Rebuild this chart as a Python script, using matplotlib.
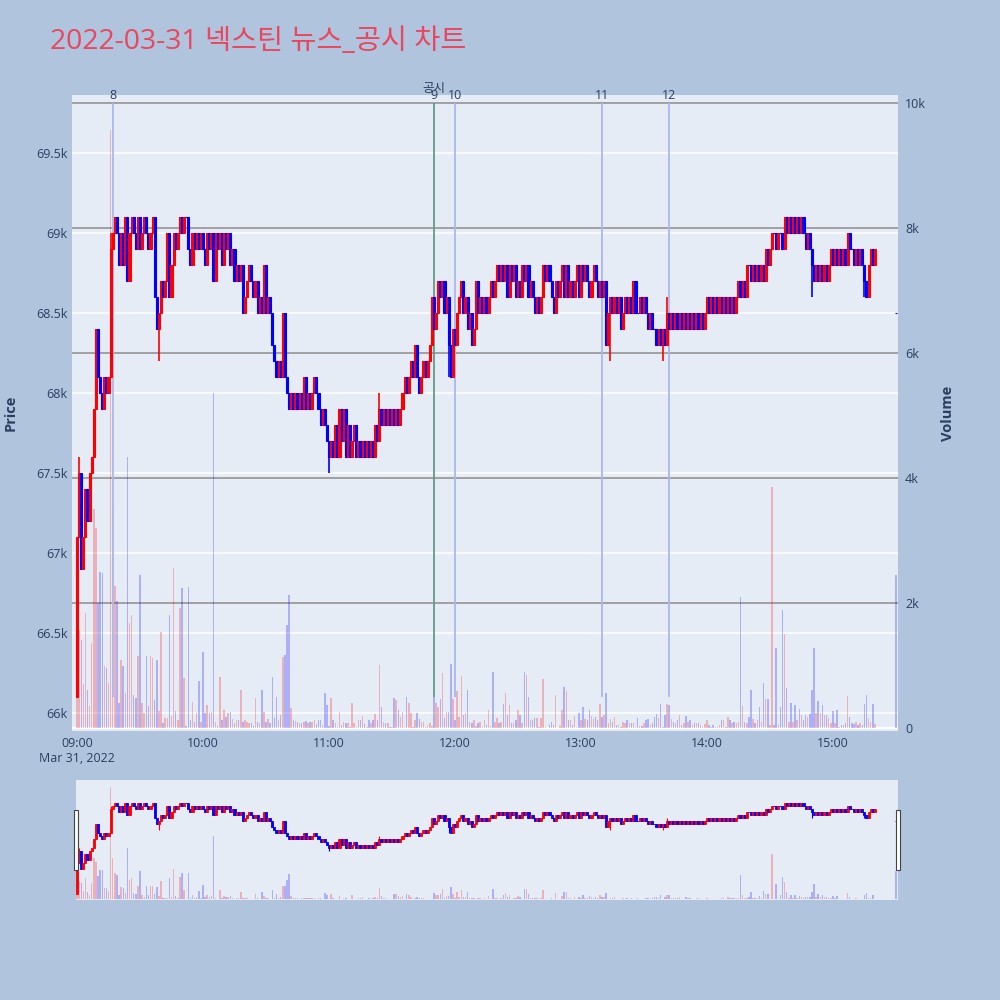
import numpy as np
import pandas as pd
import matplotlib
matplotlib.use('Agg')
import matplotlib.pyplot as plt
import matplotlib.dates as mdates
from matplotlib.patches import Rectangle

plt.rcParams['font.family'] = ['Open Sans', 'Noto Sans CJK KR', 'DejaVu Sans']

title = '2022-03-31 넥스틴 뉴스_공시 차트'

# 1-minute closes from 09:00 to 15:20, in units of 100 won
first_open = 661
closes = [
    671, 675, 669, 671, 674, 672, 675, 676, 679, 684,
    681, 680, 679, 681, 680, 681, 689, 690, 691, 690,
    688, 690, 688, 691, 687, 690, 691, 690, 689, 691,
    689, 690, 691, 690, 689, 690, 691, 686, 684, 685,
    687, 686, 687, 690, 686, 688, 690, 689, 690, 691,
    690, 691, 691, 689, 688, 690, 689, 690, 689, 690,
    689, 688, 690, 689, 690, 687, 690, 689, 690, 688,
    690, 689, 690, 688, 689, 687, 688, 687, 688, 685,
    686, 687, 688, 687, 686, 687, 685, 686, 685, 688,
    685, 686, 685, 683, 682, 681, 682, 681, 685, 681,
    680, 679, 680, 679, 680, 679, 680, 679, 681, 679,
    680, 679, 680, 681, 680, 679, 678, 679, 678, 677,
    676, 677, 676, 678, 676, 679, 677, 679, 676, 678,
    676, 677, 678, 676, 677, 676, 677, 676, 677, 676,
    677, 676, 678, 677, 679, 678, 679, 678, 679, 678,
    679, 678, 679, 678, 679, 680, 681, 680, 681, 682,
    681, 683, 681, 680, 681, 682, 681, 682, 683, 686,
    684, 685, 687, 686, 687, 685, 686, 683, 681, 684,
    683, 685, 686, 687, 685, 686, 684, 685, 683, 684,
    687, 685, 686, 685, 686, 685, 686, 687, 686, 687,
    688, 687, 688, 687, 688, 686, 688, 687, 688, 686,
    687, 686, 688, 687, 688, 686, 687, 686, 685, 686,
    685, 686, 688, 687, 688, 687, 686, 685, 687, 686,
    687, 688, 686, 688, 686, 687, 686, 687, 688, 686,
    688, 687, 688, 687, 686, 687, 688, 687, 686, 687,
    686, 687, 683, 685, 686, 685, 686, 685, 686, 684,
    685, 686, 685, 686, 685, 687, 685, 685, 686, 685,
    686, 685, 684, 685, 684, 684, 683, 684, 683, 684,
    683, 685, 684, 685, 684, 685, 684, 685, 684, 685,
    684, 685, 684, 685, 684, 685, 684, 685, 684, 685,
    686, 685, 686, 685, 686, 685, 686, 685, 686, 685,
    686, 685, 686, 685, 686, 687, 686, 687, 686, 688,
    688, 687, 688, 687, 688, 687, 688, 687, 689, 688,
    689, 690, 690, 689, 690, 690, 689, 691, 690, 691,
    690, 691, 690, 691, 690, 691, 690, 689, 690, 689,
    688, 687, 688, 687, 688, 687, 688, 687, 688, 689,
    688, 689, 688, 689, 688, 689, 688, 690, 689, 689,
    688, 689, 688, 689, 688, 687, 686, 688, 689, 688, 689,
]
close_auction = 685  # 15:30

# wicks that go past the body (minute index -> price/100)
extra_high = {1: 676, 16: 690, 113: 681, 144: 680, 281: 686, 367: 690}
extra_low = {39: 682, 120: 675, 177: 681, 254: 682, 279: 682, 350: 686, 375: 686}

volumes = [
    1300, 1570, 1410, 700, 1840, 600, 350, 1360, 3500, 3200,
    2000, 2500, 2480, 990, 960, 720, 9570, 3540, 2270, 2030,
    400, 1090, 990, 560, 4340, 1680, 1810, 530, 480, 1150,
    2450, 400, 240, 1150, 350, 1150, 1120, 450, 1090, 270,
    1540, 80, 160, 160, 1800, 190, 2560, 270, 130, 1920,
    2240, 800, 30, 2250, 130, 410, 100, 240, 750, 100,
    1220, 240, 370, 240, 260, 5360, 100, 30, 810, 130,
    290, 180, 240, 250, 140, 75, 130, 130, 600, 100,
    130, 100, 75, 75, 30, 480, 100, 75, 600, 250,
    100, 140, 75, 810, 160, 490, 130, 210, 1130, 1160,
    1640, 2130, 320, 130, 110, 100, 75, 85, 95, 110,
    85, 100, 100, 120, 65, 130, 130, 40, 560, 370,
    30, 480, 130, 75, 20, 250, 50, 100, 85, 75,
    20, 400, 75, 20, 130, 130, 190, 65, 20, 130,
    75, 120, 225, 130, 1000, 330, 100, 85, 75, 20,
    20, 480, 450, 290, 180, 250, 20, 490, 400, 235,
    20, 130, 235, 150, 100, 100, 20, 50, 75, 30,
    510, 400, 340, 460, 880, 155, 260, 250, 1020, 460,
    130, 590, 180, 830, 210, 235, 610, 100, 85, 130,
    30, 85, 100, 20, 130, 50, 290, 30, 900, 100,
    155, 75, 100, 380, 560, 210, 370, 75, 85, 130,
    290, 210, 75, 900, 850, 490, 130, 130, 155, 155,
    20, 155, 790, 20, 5, 48, 100, 48, 520, 5,
    30, 290, 650, 590, 120, 120, 48, 190, 20, 240,
    120, 340, 140, 120, 280, 190, 140, 170, 120, 380,
    170, 210, 560, 75, 140, 100, 180, 48, 48, 20,
    100, 75, 130, 75, 85, 75, 20, 155, 30, 30,
    75, 130, 140, 48, 85, 180, 225, 155, 380, 20,
    210, 380, 370, 140, 90, 85, 120, 210, 48, 75,
    190, 100, 120, 48, 75, 85, 85, 48, 20, 65,
    120, 48, 20, 48, 20, 20, 48, 120, 120, 20,
    170, 120, 85, 100, 85, 100, 2100, 350, 100, 85,
    180, 610, 140, 85, 120, 330, 100, 720, 470, 460,
    48, 3860, 48, 1280, 48, 340, 1890, 1500, 640, 100,
    400, 100, 360, 130, 300, 210, 130, 210, 180, 220,
    600, 1280, 235, 430, 235, 360, 210, 210, 155, 85,
    270, 85, 290, 10, 48, 48, 75, 510, 180, 75,
    65, 100, 48, 75, 48, 390, 530, 155, 100, 380, 60,
]
volume_auction = 2440

news_times = ['09:17', '11:50', '12:00', '13:10', '13:42']
news_labels = ['8', '9', '10', '11', '12']
news_kind = ['뉴스', '공시', '뉴스', '뉴스', '뉴스']

price_ticks = [66000, 66500, 67000, 67500, 68000, 68500, 69000, 69500]
volume_ticks = [0, 2000, 4000, 6000, 8000, 10000]

# ---- build OHLC ----
times = list(pd.date_range('2022-03-31 09:00', periods=len(closes), freq='min'))
times.append(pd.Timestamp('2022-03-31 15:30'))
x = mdates.date2num(times)
c = np.array(closes + [close_auction], dtype=float) * 100
o = np.concatenate([[first_open * 100], c[:-1]])
o[-1] = c[-1]
hi = np.maximum(o, c)
lo = np.minimum(o, c)
for k, v in extra_high.items():
    hi[k] = max(hi[k], v * 100)
for k, v in extra_low.items():
    lo[k] = min(lo[k], v * 100)
vol = np.array(volumes + [volume_auction], dtype=float)
up = c > o
cols = np.where(up, '#FF0000', '#0000FF')
vcols = [(1, 0, 0, 0.25) if u else (0, 0, 1, 0.25) for u in up]

minute = 1 / 1440
x0 = x[0]
txt = '#2A3F5F'
bg = '#E5ECF6'

fig = plt.figure(figsize=(10, 10), dpi=100, facecolor='#B0C4DE')
fig.text(0.05, 0.958, title, fontsize=20.4, color='#E8475F', va='center')

ax_p = fig.add_axes([0.072, 0.269, 0.826, 0.636])
ax_p.set_facecolor(bg)
ax_v = ax_p.twinx()
ax_c = fig.add_axes([0.072, 0.269, 0.826, 0.636], sharex=ax_p, label='candles')
ax_p.set_zorder(0)
ax_v.set_zorder(1)
ax_c.set_zorder(2)
ax_v.patch.set_visible(False)
ax_c.patch.set_visible(False)

for a in (ax_p, ax_v, ax_c):
    for s in a.spines.values():
        s.set_visible(False)

xmin, xmax = x0 - 2.4 * minute, x0 + 391 * minute
ax_p.set_xlim(xmin, xmax)
ax_p.set_ylim(65890, 69860)
ax_c.set_ylim(65890, 69860)
ax_v.set_ylim(-50, 10130)

# price grid (white)
ax_p.set_yticks(price_ticks)
ax_p.set_yticklabels([f'{t/1000:g}k' for t in price_ticks])
ax_p.grid(axis='y', color='white', lw=1.1)
ax_p.grid(axis='x', visible=False)
ax_p.tick_params(axis='y', length=0, pad=3, labelsize=9, labelcolor=txt)
ax_p.xaxis.set_major_locator(mdates.HourLocator())
ax_p.xaxis.set_major_formatter(mdates.DateFormatter('%H:%M'))
ax_p.tick_params(axis='x', length=0, pad=4, labelsize=9, labelcolor=txt)
ax_p.annotate('Mar 31, 2022', xy=(x0, 0), xycoords=('data', 'axes fraction'),
              xytext=(0, -20), textcoords='offset points', ha='center',
              va='center', fontsize=9, color=txt, annotation_clip=False)
ax_p.set_ylabel('Price', fontsize=10.5, fontweight='bold', color=txt)
ax_p.yaxis.set_label_coords(-0.066, 0.5)

# volume axis
ax_v.set_yticks(volume_ticks)
ax_v.set_yticklabels(['0'] + [f'{t//1000}k' for t in volume_ticks[1:]])
ax_v.tick_params(axis='y', length=0, pad=5, labelsize=9, labelcolor=txt)
ax_v.set_ylabel('Volume', fontsize=10.5, fontweight='bold', color=txt)
ax_v.yaxis.set_label_coords(1.052, 0.5)
ax_v.axhline(0, color='white', lw=1.6, zorder=0)
for t in volume_ticks[1:]:
    ax_v.axhline(t, color='#9B9B9B', lw=1.3, zorder=0)
ax_v.bar(x, vol, width=0.7 * minute, color=vcols, lw=0, zorder=1)

# news / disclosure markers
for t, lab, kind in zip(news_times, news_labels, news_kind):
    tx = mdates.date2num(pd.Timestamp('2022-03-31 ' + t))
    lc = '#5E9E88' if kind == '공시' else '#A9B9EE'
    ax_v.vlines(tx, 500, 10000, color=lc, lw=1.3, zorder=2)
    ax_v.annotate(lab, xy=(tx, 10000), xytext=(0, 0.5), textcoords='offset points',
                  ha='center', va='bottom', fontsize=9, color=txt, annotation_clip=False)
    if kind == '공시':
        ax_v.annotate(kind, xy=(tx, 10000), xytext=(0, 6), textcoords='offset points',
                      ha='center', va='bottom', fontsize=9, color=txt, annotation_clip=False)

# candles
ax_c.vlines(x, lo, hi, colors=cols, lw=1.2)
ax_c.bar(x, c - o, bottom=o, width=1.0 * minute, color=cols, edgecolor=cols, lw=0.8)
ax_c.axis('off')

# ---- range slider ----
ax_rv = fig.add_axes([0.076, 0.10, 0.822, 0.12])
ax_rv.set_facecolor(bg)
ax_r = fig.add_axes([0.076, 0.10, 0.822, 0.12], sharex=ax_rv, label='slider')
ax_r.patch.set_visible(False)
ax_rv.set_xlim(x0 - 0.5 * minute, x0 + 391 * minute)
ax_rv.set_ylim(-50, 10130)
ax_r.set_ylim(65890, 69860)
ax_rv.bar(x, vol, width=0.7 * minute, color=vcols, lw=0)
ax_r.vlines(x, lo, hi, colors=cols, lw=0.8)
ax_r.bar(x, c - o, bottom=o, width=1.0 * minute, color=cols, edgecolor=cols, lw=0.6)
for a in (ax_rv, ax_r):
    a.set_xticks([])
    a.set_yticks([])
    for s in a.spines.values():
        s.set_visible(False)

for hx in (0.0735, 0.8955):
    fig.patches.append(Rectangle((hx, 0.13), 0.004, 0.06, transform=fig.transFigure,
                                 facecolor='white', edgecolor='#444444', lw=0.8))

fig.savefig('out.png', dpi=100, facecolor=fig.get_facecolor())
